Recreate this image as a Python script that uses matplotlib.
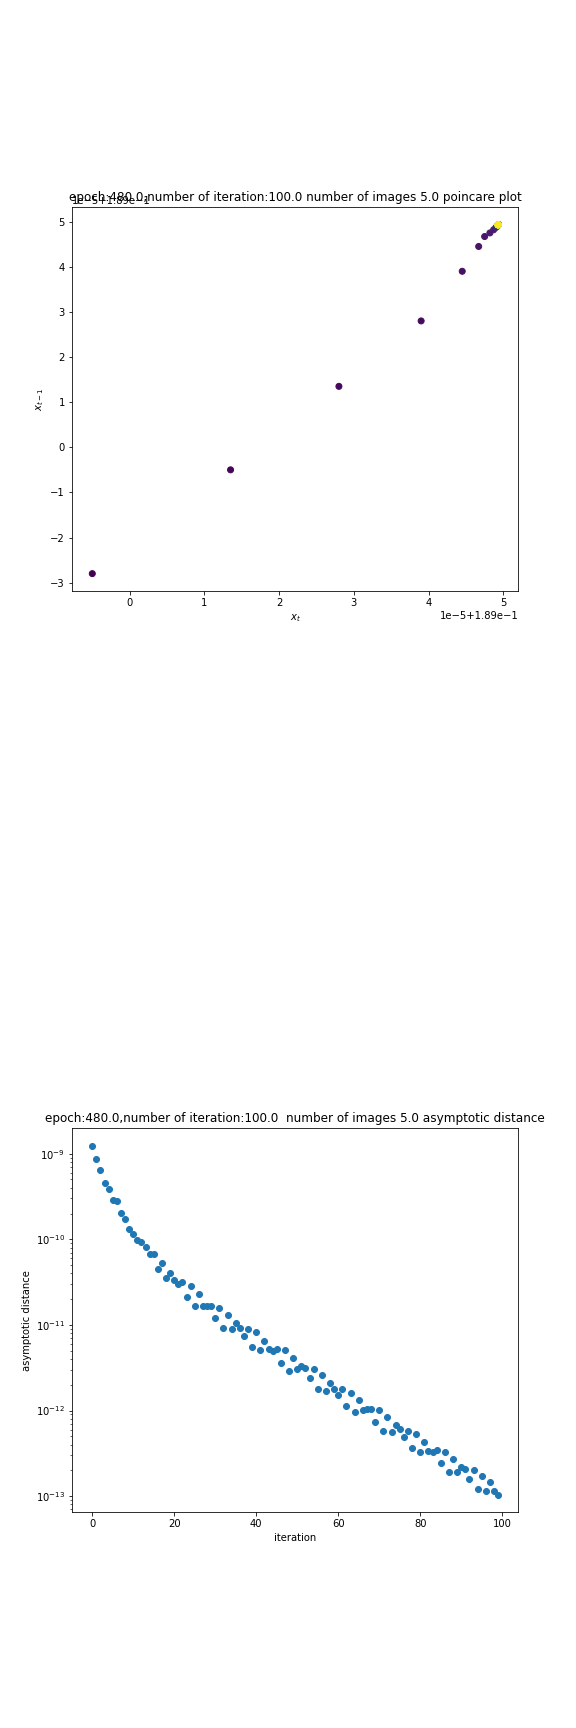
import matplotlib
matplotlib.use("Agg")
import matplotlib.pyplot as plt
import numpy as np

# poincare sequence, in units of 1e-5 around 0.189
x_seq = [-2.8, -0.5, 1.35, 2.8, 3.9, 4.45, 4.67, 4.75, 4.82, 4.87, 4.90, 4.92] + [4.93] * 88
x_offset = 0.189
x_scale = 1e-5

# asymptotic distance per iteration
distance = [
    1.24e-9, 8.7e-10, 6.5e-10, 4.6e-10, 3.9e-10, 2.9e-10, 2.78e-10, 2.05e-10, 1.74e-10, 1.31e-10,
    1.17e-10, 9.7e-11, 9.2e-11, 8.2e-11, 6.8e-11, 6.7e-11, 4.55e-11, 5.25e-11, 3.57e-11, 4.08e-11,
    3.38e-11, 3.03e-11, 3.2e-11, 2.14e-11, 2.83e-11, 1.68e-11, 2.28e-11, 1.68e-11, 1.68e-11, 1.68e-11,
    1.22e-11, 1.59e-11, 9.3e-12, 1.32e-11, 9.06e-12, 1.045e-11, 9.3e-12, 7.5e-12, 9.06e-12, 5.58e-12,
    8.2e-12, 5.15e-12, 6.56e-12, 5.3e-12, 4.93e-12, 5.3e-12, 3.63e-12, 5.06e-12, 2.93e-12, 4.16e-12,
    3.06e-12, 3.3e-12, 3.15e-12, 2.38e-12, 3.03e-12, 1.81e-12, 2.63e-12, 1.70e-12, 2.12e-12, 1.77e-12,
    1.54e-12, 1.77e-12, 1.14e-12, 1.62e-12, 9.64e-13, 1.34e-12, 1.01e-12, 1.03e-12, 1.03e-12, 7.44e-13,
    1.01e-12, 5.85e-13, 8.5e-13, 5.69e-13, 6.75e-13, 6.05e-13, 4.97e-13, 5.85e-13, 3.70e-13, 5.39e-13,
    3.32e-13, 4.35e-13, 3.41e-13, 3.24e-13, 3.51e-13, 2.43e-13, 3.24e-13, 1.94e-13, 2.75e-13, 1.94e-13,
    2.18e-13, 2.07e-13, 1.57e-13, 2.0e-13, 1.20e-13, 1.74e-13, 1.16e-13, 1.45e-13, 1.16e-13, 1.045e-13,
]
iterations = list(range(len(distance)))

x = x_offset + np.array(x_seq) * x_scale

fig, axes = plt.subplots(3, 1, figsize=(8, 24), dpi=72)
fig.subplots_adjust(bottom=0.125)

ax = axes[0]
ax.scatter(x[1:], x[:-1], c=np.arange(len(x) - 1), cmap="viridis")
ax.set_xlabel("$x_t$")
ax.set_ylabel("$x_{t-1}$")
# fixed y so the title sits over the offset text, like the original
ax.set_title("epoch:480.0,number of iteration:100.0 number of images 5.0 poincare plot", y=1.0)

axes[1].axis("off")

ax = axes[2]
ax.scatter(iterations, distance)
ax.set_yscale("log")
ax.set_xlabel("iteration")
ax.set_ylabel("asymptotic distance")
ax.set_title("epoch:480.0,number of iteration:100.0  number of images 5.0 asymptotic distance")

fig.savefig("out.png", dpi=72)
